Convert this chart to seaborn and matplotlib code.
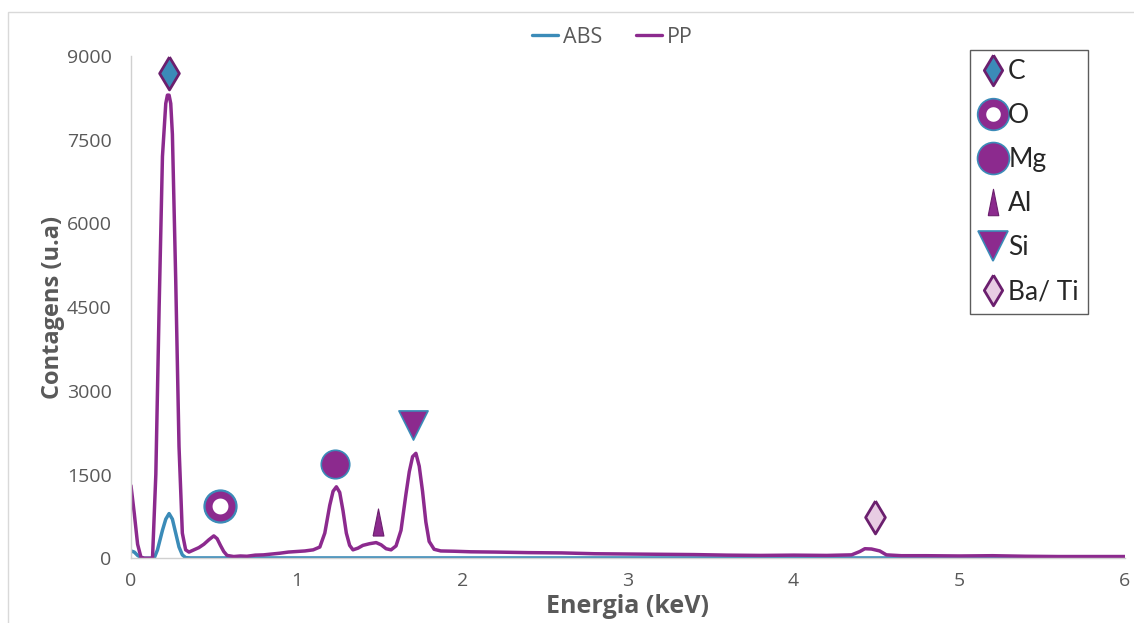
import numpy as np
import pandas as pd
import matplotlib
matplotlib.use("Agg")
import matplotlib.pyplot as plt
from matplotlib.lines import Line2D
from matplotlib.patches import Rectangle
from matplotlib.legend_handler import HandlerTuple
import seaborn as sns

# spectra (energy in keV, counts)
pp_kev = [0.00, 0.02, 0.04, 0.06, 0.08, 0.10, 0.13, 0.15, 0.17, 0.19, 0.21, 0.22, 0.23, 0.24, 0.25,
          0.27, 0.29, 0.31, 0.33, 0.35, 0.38, 0.41, 0.44, 0.47, 0.50, 0.52, 0.54, 0.56, 0.58, 0.62,
          0.66, 0.70, 0.75, 0.80, 0.85, 0.90, 0.95, 1.00, 1.05, 1.10, 1.14, 1.17, 1.20, 1.22, 1.24,
          1.26, 1.28, 1.30, 1.32, 1.34, 1.37, 1.40, 1.44, 1.48, 1.51, 1.54, 1.57, 1.60, 1.63, 1.66,
          1.68, 1.70, 1.72, 1.74, 1.76, 1.78, 1.80, 1.83, 1.87, 1.95, 2.05, 2.20, 2.40, 2.60, 2.80,
          3.00, 3.20, 3.40, 3.60, 3.80, 4.00, 4.20, 4.35, 4.40, 4.43, 4.47, 4.52, 4.56, 4.65, 4.80,
          5.00, 5.20, 5.40, 5.60, 5.80, 6.00]
pp_counts = [1300, 800, 250, 20, 0, 0, 0, 1500, 4500, 7200, 8150, 8300, 8300, 8150, 7600,
             5000, 2000, 450, 150, 110, 150, 190, 250, 330, 400, 350, 230, 120, 50, 30,
             40, 35, 55, 60, 75, 90, 110, 120, 130, 150, 200, 450, 950, 1200, 1280,
             1180, 850, 450, 230, 150, 180, 230, 260, 280, 240, 170, 150, 220, 500, 1150,
             1550, 1820, 1880, 1650, 1200, 650, 300, 160, 130, 125, 115, 110, 100, 95, 80,
             75, 70, 65, 55, 50, 55, 50, 60, 120, 170, 165, 130, 60, 45, 45,
             40, 45, 35, 30, 30, 30]

abs_kev = [0.00, 0.02, 0.04, 0.06, 0.08, 0.14, 0.16, 0.19, 0.21, 0.23, 0.25, 0.27, 0.29, 0.31,
           0.33, 0.36, 1.00, 2.00, 3.00, 4.00, 5.00, 6.00]
abs_counts = [130, 110, 50, 10, 0, 0, 150, 500, 700, 800, 700, 450, 200, 60,
              10, 5, 5, 5, 5, 5, 5, 5]

# element markers
elements = ["C", "O", "Mg", "Al", "Si", "Ba/ Ti"]
elem_kev = [0.23, 0.54, 1.23, 1.49, 1.70, 4.49]
elem_counts = [8700, 930, 1680, 650, 2380, 740]

purple = "#8C2A8E"
dark_purple = "#6B1F6E"
blue = "#3B8BB8"
grey = "#595959"

df = pd.concat([
    pd.DataFrame({"Energia": abs_kev, "Contagens": abs_counts, "Amostra": "ABS"}),
    pd.DataFrame({"Energia": pp_kev, "Contagens": pp_counts, "Amostra": "PP"}),
])

sns.set_style("white")
plt.rcParams["font.family"] = ["Open Sans", "DejaVu Sans"]

fig = plt.figure(figsize=(11.34, 6.23), dpi=100)
ax = fig.add_axes([0.1155, 0.104, 0.8765, 0.806])
fig.patches.append(Rectangle((0.007, -0.01), 1.0, 0.99, transform=fig.transFigure,
                             fill=False, edgecolor="#d9d9d9", linewidth=1))

sns.lineplot(data=df, x="Energia", y="Contagens", hue="Amostra",
             palette={"ABS": blue, "PP": purple}, linewidth=2.5, ax=ax, legend=False)

# marker shapes
diamond = [(0, 1), (0.6, 0), (0, -1), (-0.6, 0), (0, 1)]
al_marker = [(-0.4, -1), (0.4, -1), (0, 1), (-0.4, -1)]
styles = {
    "C": dict(marker=diamond, s=560, facecolor=blue, edgecolor=dark_purple, linewidths=2),
    "O": dict(marker="o", s=270, facecolor="white", edgecolor=purple, linewidths=5),
    "Mg": dict(marker="o", s=420, facecolor=purple, edgecolor=blue, linewidths=1.2),
    "Al": dict(marker=al_marker, s=380, facecolor=purple, edgecolor=dark_purple, linewidths=0.8),
    "Si": dict(marker="v", s=440, facecolor=purple, edgecolor=blue, linewidths=1.2),
    "Ba/ Ti": dict(marker=diamond, s=560, facecolor="#E8CCE3", edgecolor=dark_purple, linewidths=2),
}
# blue rim around the O ring
ax.scatter([elem_kev[1]], [elem_counts[1]], marker="o", s=560, facecolor=blue,
           edgecolor=blue, zorder=4)
for el, xk, yc in zip(elements, elem_kev, elem_counts):
    st = styles[el]
    ax.scatter([xk], [yc], marker=st["marker"], s=st["s"], facecolor=st["facecolor"],
               edgecolor=st["edgecolor"], linewidths=st["linewidths"], zorder=5)

ax.set_xlim(0, 6)
ax.set_ylim(0, 9000)
ax.set_yticks([0, 1500, 3000, 4500, 6000, 7500, 9000])
ax.set_xticks([0, 1, 2, 3, 4, 5, 6])
ax.tick_params(axis="both", colors=grey, labelsize=14, length=0)
ax.tick_params(axis="x", pad=10)
ax.tick_params(axis="y", pad=14)
for side in ["top", "right"]:
    ax.spines[side].set_visible(False)
for side in ["left", "bottom"]:
    ax.spines[side].set_color("#d0d0d0")
    ax.spines[side].set_linewidth(1)

ax.set_xlabel("Energia (keV)", fontsize=18, fontweight="bold", color=grey, labelpad=3)
ax.set_ylabel("Contagens (u.a)", fontsize=17, fontweight="bold", color=grey, labelpad=1)

# series legend, top centre
line_handles = [Line2D([], [], color=blue, lw=2.4), Line2D([], [], color=purple, lw=2.4)]
fig.legend(line_handles, ["ABS", "PP"], loc="center", bbox_to_anchor=(0.54, 0.94),
           ncol=2, frameon=False, fontsize=15.5, handlelength=1.2, columnspacing=1.6,
           handletextpad=0.2, labelcolor=grey)

# element legend, right
legend_sizes = {"C": 22, "O": 16, "Mg": 23, "Al": 19, "Si": 22, "Ba/ Ti": 22}
el_handles = []
for el in elements:
    st = styles[el]
    h = Line2D([], [], linestyle="none", marker=st["marker"], markersize=legend_sizes[el],
               markerfacecolor=st["facecolor"], markeredgecolor=st["edgecolor"],
               markeredgewidth=st["linewidths"] if el != "O" else 5.5)
    if el == "O":
        rim = Line2D([], [], linestyle="none", marker="o", markersize=23,
                     markerfacecolor=blue, markeredgecolor=blue)
        h = (rim, h)
    el_handles.append(h)
leg2 = ax.legend(el_handles, elements, loc="upper left", bbox_to_anchor=(0.844, 1.012),
                 frameon=True, fancybox=False, edgecolor="#333333",
                 labelspacing=0.72, handletextpad=0.05, borderpad=0.35, handlelength=1.05,
                 borderaxespad=0, prop={"family": ["Lato", "DejaVu Sans"], "size": 19},
                 handler_map={tuple: HandlerTuple(ndivide=1)})
leg2.get_frame().set_linewidth(1)

fig.savefig("out.png", dpi=100)
